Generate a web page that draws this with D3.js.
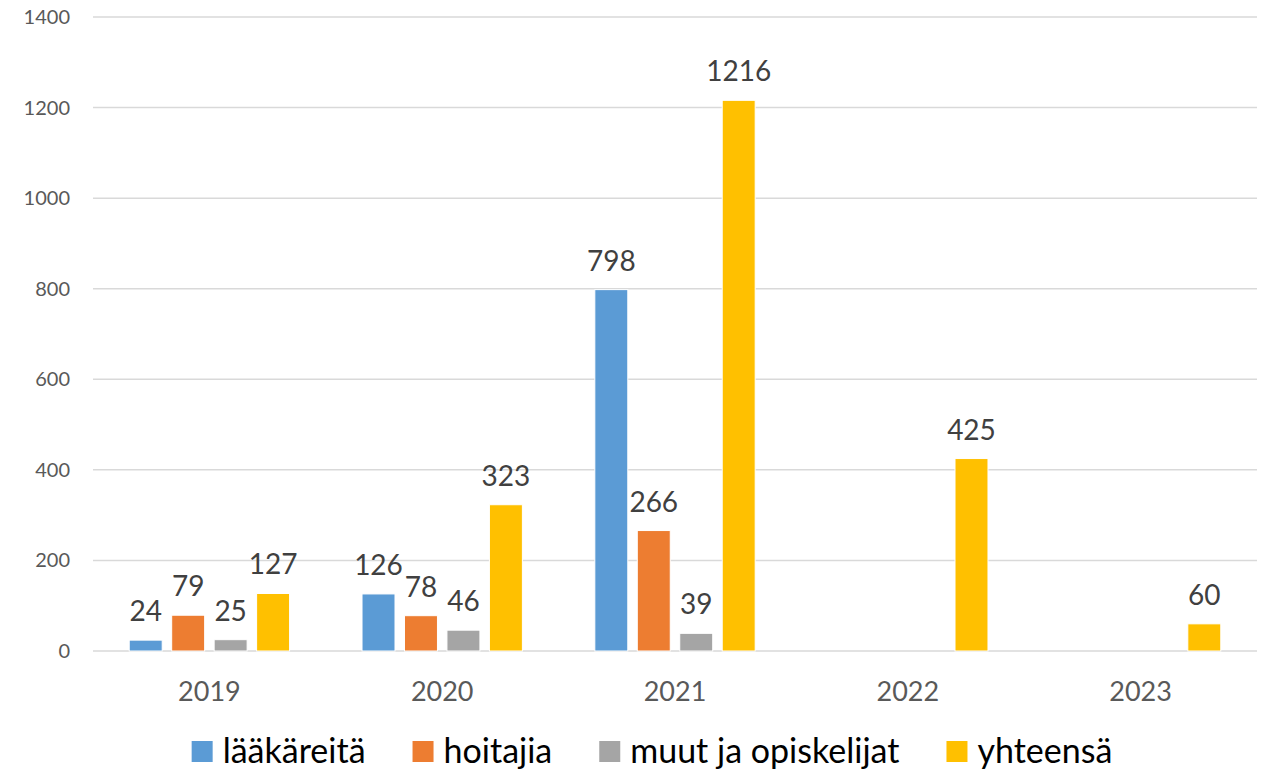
<!DOCTYPE html>
<html>
<head>
    <meta charset="utf-8">
    <title>chart</title>
    <script src="https://cdn.jsdelivr.net/npm/d3@7/dist/d3.min.js"></script>
    <style>
        body { margin: 0; background: #fff; }
        text { font-family: Lato, "Open Sans", sans-serif; }
    </style>
</head>
<body>
<script>
    var years = ['2019', '2020', '2021', '2022', '2023'];
    var seriesNames = ['lääkäreitä', 'hoitajia', 'muut ja opiskelijat', 'yhteensä'];
    var seriesColors = ['#5b9bd5', '#ed7d31', '#a5a5a5', '#ffc000'];
    var laakareita = [24, 126, 798, null, null];
    var hoitajia = [79, 78, 266, null, null];
    var muut = [25, 46, 39, null, null];
    var yhteensa = [127, 323, 1216, 425, 60];
    var yTicks = [0, 200, 400, 600, 800, 1000, 1200, 1400];

    var seriesValues = [laakareita, hoitajia, muut, yhteensa];
    var width = 1268, height = 773;

    var svg = d3.select('body').append('svg').attr('width', width).attr('height', height);

    var x = d3.scaleBand().domain(years).range([93, 1257]);
    var xs = d3.scaleBand().domain(d3.range(4)).range([0, x.bandwidth()])
            .paddingInner(0.2235).paddingOuter(0.853);
    var y = d3.scaleLinear().domain([0, 1400]).range([651, 17]);

    // gridlines
    svg.selectAll('line.grid').data(yTicks).enter().append('line')
            .attr('x1', 93).attr('x2', 1257)
            .attr('y1', function (d) { return y(d); })
            .attr('y2', function (d) { return y(d); })
            .attr('stroke', '#d9d9d9')
            .attr('stroke-width', 1.5);

    // y axis labels
    svg.selectAll('text.ytick').data(yTicks).enter().append('text')
            .text(function (d) { return d; })
            .attr('x', 70)
            .attr('y', function (d) { return y(d) + 7; })
            .attr('text-anchor', 'end')
            .attr('font-size', 20)
            .attr('fill', '#595959');

    // x axis labels
    svg.selectAll('text.xtick').data(years).enter().append('text')
            .text(function (d) { return d; })
            .attr('x', function (d) { return x(d) + x.bandwidth() / 2; })
            .attr('y', 701)
            .attr('text-anchor', 'middle')
            .attr('font-size', 27)
            .attr('fill', '#595959');

    // bars
    var points = [];
    seriesValues.forEach(function (vals, s) {
        vals.forEach(function (v, i) {
            if (v !== null) points.push({s: s, year: years[i], v: v});
        });
    });

    svg.selectAll('rect.bar').data(points).enter().append('rect')
            .attr('x', function (d) { return x(d.year) + xs(d.s); })
            .attr('y', function (d) { return y(d.v); })
            .attr('width', xs.bandwidth())
            .attr('height', function (d) { return y(0) - y(d.v); })
            .attr('fill', function (d) { return seriesColors[d.s]; })
            .attr('stroke', '#fff')
            .attr('stroke-width', 1);

    svg.selectAll('text.lbl').data(points).enter().append('text')
            .text(function (d) { return d.v; })
            .attr('x', function (d) { return x(d.year) + xs(d.s) + xs.bandwidth() / 2; })
            .attr('y', function (d) { return y(d.v) - 19; })
            .attr('text-anchor', 'middle')
            .attr('font-size', 28)
            .attr('fill', '#404040');

    // legend (kept just above the bottom edge so descenders are not cut)
    var legend = svg.append('g');
    var lx = 0;
    seriesNames.forEach(function (name, i) {
        var g = legend.append('g').attr('transform', 'translate(' + lx + ',0)');
        g.append('rect').attr('x', 0).attr('y', 741).attr('width', 21).attr('height', 21)
                .attr('fill', seriesColors[i]);
        var t = g.append('text').text(name)
                .attr('x', 31).attr('y', 763)
                .attr('font-size', 34)
                .attr('fill', '#000');
        lx += 31 + t.node().getComputedTextLength() + 47;
    });
    var legendW = lx - 47;
    legend.attr('transform', 'translate(' + (652 - legendW / 2) + ',0)');
</script>
</body>
</html>
